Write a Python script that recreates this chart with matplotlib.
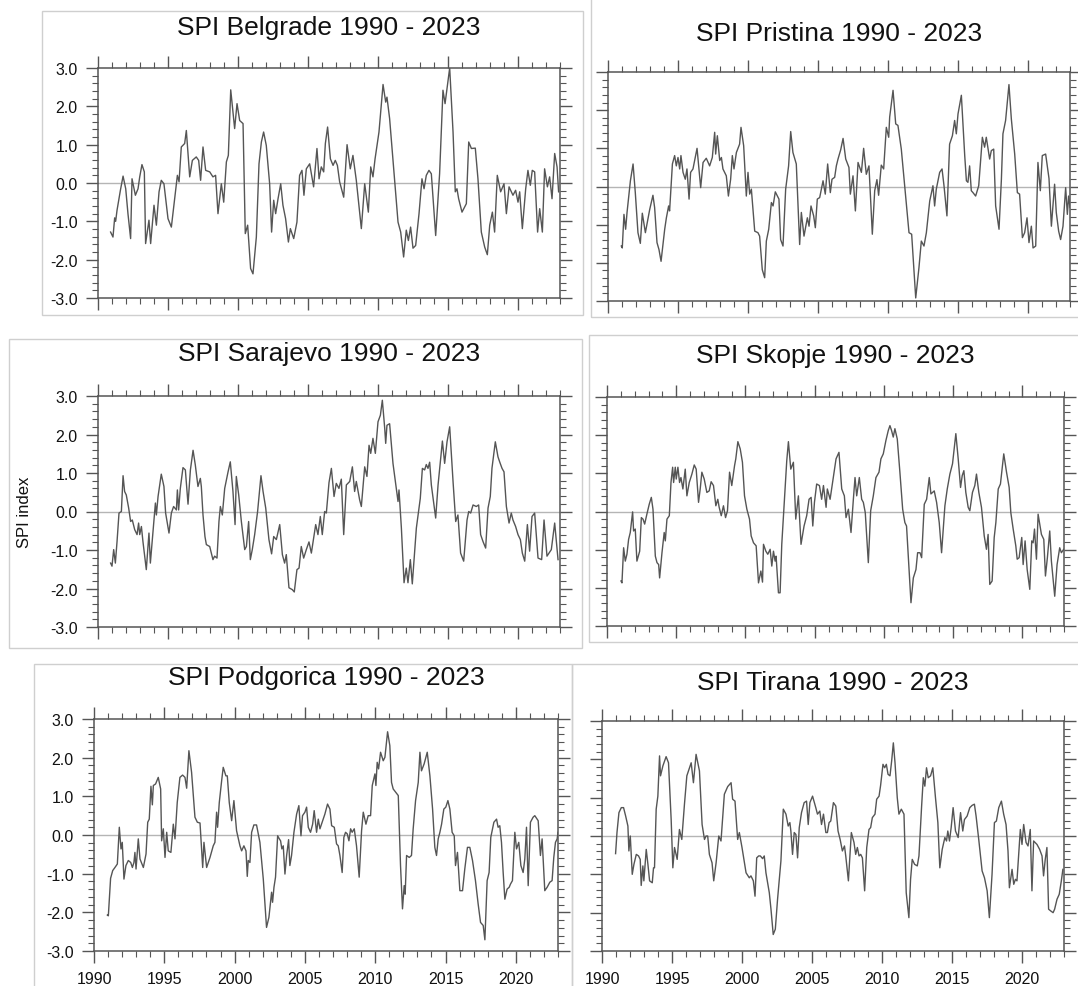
import numpy as np
import matplotlib.pyplot as plt
from matplotlib.ticker import MultipleLocator, FormatStrFormatter
from matplotlib.patches import Rectangle

plt.rcParams['font.family'] = ['Liberation Sans', 'DejaVu Sans']

# SPI values: time in years after 1990, SPI value
belgrade_t = [0.90, 1.07, 1.19, 1.26, 1.36, 1.60, 1.79, 1.98, 2.14, 2.33, 2.43, 2.67, 2.86, 2.98, 3.14, 3.31,
              3.40, 3.64, 3.76, 4.00, 4.17, 4.36, 4.52, 4.71, 5.00, 5.24, 5.48, 5.67, 5.79, 5.95, 6.19, 6.31,
              6.55, 6.74, 7.02, 7.19, 7.33, 7.50, 7.69, 7.98, 8.21, 8.40, 8.57, 8.81, 8.98, 9.17, 9.31, 9.48,
              9.76, 9.93, 10.12, 10.36, 10.52, 10.69, 10.90, 11.07, 11.31, 11.50, 11.67, 11.83, 12.02, 12.26,
              12.40, 12.55, 12.69, 12.86, 13.05, 13.21, 13.40, 13.60, 13.74, 13.98, 14.21, 14.40, 14.57, 14.71,
              14.88, 15.12, 15.40, 15.64, 15.79, 15.95, 16.12, 16.24, 16.40, 16.60, 16.79, 16.95, 17.10, 17.26,
              17.55, 17.79, 18.02, 18.21, 18.45, 18.81, 19.05, 19.31, 19.48, 19.64, 19.79, 20.07, 20.36, 20.55,
              20.64, 20.83, 21.12, 21.43, 21.62, 21.83, 22.02, 22.17, 22.33, 22.50, 22.69, 22.93, 23.14, 23.29,
              23.45, 23.64, 23.81, 24.12, 24.40, 24.64, 24.79, 25.12, 25.36, 25.52, 25.64, 25.76, 26.00, 26.31,
              26.48, 26.67, 26.95, 27.14, 27.38, 27.62, 27.81, 27.98, 28.17, 28.33, 28.52, 28.76, 29.00, 29.17,
              29.36, 29.64, 29.83, 30.00, 30.12, 30.31, 30.55, 30.71, 30.88, 31.02, 31.19, 31.40, 31.55, 31.74,
              31.90, 32.10, 32.26, 32.43, 32.62, 32.79, 32.90]
belgrade_v = [-1.28, -1.41, -0.91, -1.00, -0.71, -0.19, 0.18, -0.15, -0.80, -1.45, 0.11, -0.32, -0.15, 0.16, 0.48, 0.29,
              -1.58, -0.97, -1.58, -0.58, -1.10, -0.23, 0.07, -0.02, -0.93, -1.15, -0.41, 0.20, 0.03, 0.94, 1.03, 1.37,
              0.16, 0.59, 0.68, 0.59, 0.07, 0.94, 0.33, 0.29, 0.16, 0.20, -0.80, -0.02, -0.50, 0.55, 0.72, 2.43,
              1.42, 2.07, 1.63, 1.55, -1.32, -1.10, -2.23, -2.37, -1.41, 0.50, 1.07, 1.33, 0.98, -0.02,
              -1.28, -0.45, -0.80, -0.41, -0.02, -0.58, -0.93, -1.54, -1.19, -1.45, -1.02, 0.20, 0.33, -0.32,
              0.37, 0.50, -0.10, 0.90, 0.11, 0.42, 0.29, 1.03, 1.46, 0.63, 0.46, 0.59, 0.46, 0.03,
              -0.37, 1.00, 0.37, 0.72, 0.07, -1.19, -0.02, -0.76, 0.42, 0.16, 0.63, 1.33, 2.57, 2.11,
              2.24, 1.68, 0.37, -1.02, -1.28, -1.93, -1.23, -1.50, -1.15, -1.70, -1.63, -0.80, 0.11, -0.15,
              0.20, 0.33, 0.24, -1.37, 0.24, 2.42, 2.07, 3.00, 1.33, -0.23, -0.15, -0.41, -0.76, -0.54,
              1.07, 0.90, 0.91, 0.11, -1.28, -1.67, -1.87, -1.10, -0.76, -1.28, 0.20, -0.23, -0.02, -0.80,
              -0.10, -0.32, -0.19, -0.50, -0.23, -1.19, -0.15, 0.33, -0.06, 0.33, 0.29, -1.28, -0.67, -1.28,
              0.37, -0.10, 0.16, -0.41, 0.77, 0.42, -0.23]

pristina_t = [0.95, 1.02, 1.14, 1.26, 1.36, 1.60, 1.79, 1.95, 2.14, 2.31, 2.45, 2.67, 2.98, 3.21, 3.33, 3.50,
              3.64, 3.79, 4.05, 4.17, 4.33, 4.40, 4.60, 4.76, 4.88, 5.00, 5.12, 5.21, 5.36, 5.52, 5.64, 5.79,
              5.90, 6.07, 6.36, 6.62, 6.79, 7.02, 7.26, 7.45, 7.62, 7.69, 7.81, 7.98, 8.10, 8.21, 8.45, 8.60,
              8.76, 8.88, 9.00, 9.17, 9.40, 9.50, 9.69, 9.88, 10.00, 10.12, 10.24, 10.48, 10.71, 10.83, 11.02,
              11.19, 11.31, 11.48, 11.67, 11.79, 11.95, 12.21, 12.33, 12.50, 12.69, 12.90, 13.05, 13.21, 13.45,
              13.69, 13.81, 14.00, 14.24, 14.36, 14.50, 14.69, 14.81, 14.95, 15.12, 15.36, 15.52, 15.69, 15.88,
              16.00, 16.19, 16.31, 16.43, 16.62, 16.79, 16.98, 17.21, 17.31, 17.50, 17.67, 17.86, 18.10, 18.26,
              18.45, 18.64, 18.88, 19.05, 19.21, 19.33, 19.52, 19.69, 19.88, 20.05, 20.12, 20.36, 20.55, 20.71,
              20.95, 21.19, 21.50, 21.69, 21.98, 22.21, 22.38, 22.57, 22.74, 22.98, 23.21, 23.33, 23.45, 23.69,
              23.86, 24.00, 24.21, 24.40, 24.60, 24.76, 24.88, 25.00, 25.24, 25.48, 25.60, 25.71, 25.83, 25.95,
              26.07, 26.26, 26.48, 26.74, 26.90, 27.02, 27.26, 27.38, 27.55, 27.69, 27.93, 28.10, 28.21, 28.40,
              28.64, 28.81, 29.05, 29.24, 29.40, 29.60, 29.76, 29.93, 30.07, 30.24, 30.36, 30.55, 30.71, 30.88,
              31.02, 31.26, 31.50, 31.67, 31.90, 32.02, 32.19, 32.33, 32.50, 32.69, 32.81, 32.90, 33.00]
pristina_v = [-1.56, -1.61, -0.73, -1.12, -0.68, 0.15, 0.59, -0.16, -1.21, -1.49, -0.70, -1.21, -0.60, -0.23, -0.55, -1.47,
              -1.65, -1.96, -1.12, -0.82, -0.51, -0.64, 0.59, 0.81, 0.54, 0.76, 0.46, 0.81, 0.37, 0.19, 0.46, -0.33,
              0.37, 0.46, 1.00, -0.03, 0.63, 0.74, 0.54, 0.76, 1.42, 0.85, 1.33, 0.68, 0.76, 0.46, 0.28, -0.25,
              0.19, 0.81, 0.46, 0.89, 1.11, 1.55, 1.07, -0.25, 0.37, -0.20, -0.07, -1.17, -1.21, -1.30, -2.18,
              -2.39, -1.43, -1.12, -0.42, -0.51, -0.14, -0.33, -1.39, -1.56, -0.07, 0.54, 1.44, 0.89, 0.59,
              -1.52, -0.68, -1.30, -0.82, -1.04, -0.51, -0.77, -1.08, -0.33, -0.29, 0.15, -0.20, 0.59, -0.16,
              0.19, 0.24, 0.54, 0.72, 0.96, 1.26, 0.72, 0.50, -0.20, 0.28, -0.64, 0.63, 0.37, 1.00,
              0.32, 0.54, -1.25, -0.11, 0.18, -0.23, 0.56, 0.46, 1.55, 1.29, 1.82, 2.52, 1.64, 1.60,
              0.98, 0.02, -1.21, -1.25, -2.92, -2.13, -1.43, -1.56, -1.21, -0.38, 0.02, -0.51, -0.07, 0.37,
              0.46, 0.02, -0.77, 1.11, 1.33, 1.73, 1.38, 1.90, 2.39, 0.81, 0.15, 0.11, 0.54, -0.11,
              -0.16, -0.25, 0.02, 1.29, 1.03, 1.29, 0.72, 0.94, 0.98, -0.51, -1.12, 0.19, 1.38, 1.73,
              2.67, 1.77, 0.85, -0.16, -0.20, -1.34, -1.21, -0.82, -1.47, -1.04, -1.61, -1.56, 0.63, -0.11,
              0.81, 0.85, 0.21, -1.04, 0.06, -0.68, -1.17, -1.39, -1.04, -0.03, -0.73, -0.25, -0.55]

sarajevo_t = [0.90, 1.00, 1.12, 1.24, 1.36, 1.50, 1.67, 1.79, 1.90, 2.02, 2.19, 2.33, 2.45, 2.62, 2.79, 2.90,
              2.98, 3.10, 3.21, 3.45, 3.64, 3.74, 3.93, 4.10, 4.17, 4.29, 4.52, 4.71, 4.83, 5.07, 5.24, 5.40,
              5.60, 5.67, 5.76, 5.88, 6.07, 6.24, 6.43, 6.60, 6.79, 6.95, 7.14, 7.31, 7.38, 7.50, 7.64, 7.74,
              7.98, 8.21, 8.33, 8.50, 8.64, 8.74, 8.88, 9.05, 9.29, 9.45, 9.64, 9.79, 9.88, 10.05, 10.24, 10.48,
              10.60, 10.76, 10.88, 11.02, 11.19, 11.40, 11.64, 11.79, 11.98, 12.21, 12.40, 12.55, 12.74, 12.98,
              13.17, 13.33, 13.45, 13.64, 13.88, 14.02, 14.21, 14.36, 14.52, 14.69, 14.88, 15.07, 15.24, 15.55,
              15.71, 15.88, 16.02, 16.19, 16.31, 16.50, 16.67, 16.86, 17.02, 17.21, 17.38, 17.55, 17.74, 17.98,
              18.17, 18.33, 18.45, 18.69, 18.81, 19.05, 19.21, 19.36, 19.48, 19.64, 19.81, 20.00, 20.17, 20.31,
              20.48, 20.55, 20.64, 20.83, 21.07, 21.31, 21.43, 21.50, 21.67, 21.86, 22.02, 22.14, 22.31, 22.45,
              22.74, 23.02, 23.17, 23.33, 23.45, 23.57, 23.69, 23.81, 24.12, 24.29, 24.60, 24.76, 24.93, 25.12,
              25.36, 25.55, 25.71, 25.90, 26.12, 26.36, 26.48, 26.62, 26.79, 27.02, 27.19, 27.33, 27.50, 27.69,
              27.86, 28.02, 28.14, 28.38, 28.57, 28.69, 28.86, 29.00, 29.17, 29.36, 29.52, 29.64, 29.83, 30.00,
              30.17, 30.31, 30.48, 30.67, 30.83, 31.00, 31.19, 31.43, 31.69, 31.86, 32.07, 32.38, 32.62, 32.86]
sarajevo_v = [-1.34, -1.42, -0.99, -1.34, -0.78, -0.04, 0.00, 0.93, 0.52, 0.43, 0.09, -0.26, -0.22, -0.47, -0.60, -0.30,
              -0.60, -0.39, -0.78, -1.51, -0.56, -1.34, -0.52, 0.22, -0.09, 0.39, 0.97, 0.65, -0.04, -0.56, -0.04, 0.13,
              0.04, 0.56, 0.04, 0.60, 1.14, 1.08, 0.19, 1.08, 1.59, 1.21, 0.65, 0.86, 0.65, -0.09, -0.65, -0.86,
              -0.91, -1.25, -1.16, -1.21, -0.26, 0.13, -0.09, 0.60, 1.03, 1.29, 0.52, -0.34, 0.91, 0.43, -0.26, -0.99,
              -0.91, -0.26, -1.25, -0.99, -0.60, 0.00, 0.93, 0.52, 0.09, -0.73, -1.10, -0.65, -0.73, -0.34,
              -1.12, -1.34, -1.12, -1.98, -2.03, -2.09, -1.51, -1.47, -0.91, -1.21, -0.99, -0.79, -1.08, -0.34,
              -0.60, -0.13, -0.60, 0.00, -0.04, 0.75, 1.12, 0.39, 0.73, 0.60, 0.84, -0.60, 0.69, 0.78,
              1.16, 0.52, 0.78, 0.30, 0.13, 1.16, 0.91, 1.72, 1.51, 1.90, 1.51, 2.33, 2.50, 2.89,
              2.16, 1.77, 2.24, 2.28, 1.25, 0.60, 0.26, 0.56, -0.43, -1.85, -1.47, -1.85, -1.25, -1.88,
              -0.43, 0.34, 1.12, 1.08, 1.22, 1.12, 1.28, 0.69, -0.17, 0.69, 1.83, 1.25, 1.81, 2.20,
              0.78, -0.26, -0.09, -1.08, -1.29, -0.22, 0.00, -0.04, 0.17, 0.13, 0.17, -0.60, -0.78, -0.95,
              0.09, 0.39, 1.12, 1.81, 1.42, 1.29, 1.12, 1.03, 0.13, -0.30, -0.04, -0.22, -0.39, -0.60,
              -0.73, -1.08, -1.29, -0.34, -1.03, -0.13, -0.04, -1.21, -1.25, -0.22, -1.16, -0.99, -0.30, -1.25]

skopje_t = [1.01, 1.08, 1.20, 1.32, 1.44, 1.56, 1.68, 1.85, 1.92, 2.04, 2.16, 2.36, 2.48, 2.60, 2.72, 2.88,
            3.05, 3.20, 3.32, 3.49, 3.61, 3.73, 3.80, 3.97, 4.13, 4.21, 4.33, 4.50, 4.62, 4.74, 4.81, 4.93,
            5.00, 5.12, 5.24, 5.34, 5.48, 5.65, 5.77, 5.94, 6.13, 6.30, 6.44, 6.61, 6.73, 6.85, 7.02, 7.21,
            7.38, 7.52, 7.69, 7.86, 8.00, 8.10, 8.25, 8.41, 8.56, 8.70, 8.85, 9.01, 9.21, 9.30, 9.45, 9.62,
            9.78, 9.93, 10.10, 10.29, 10.41, 10.58, 10.77, 10.94, 11.11, 11.23, 11.30, 11.47, 11.61, 11.78,
            11.90, 12.02, 12.14, 12.21, 12.38, 12.50, 12.62, 12.81, 12.98, 13.10, 13.27, 13.46, 13.63, 13.82,
            14.01, 14.23, 14.42, 14.59, 14.74, 14.86, 14.98, 15.14, 15.34, 15.50, 15.63, 15.82, 15.91, 16.11,
            16.27, 16.54, 16.75, 16.95, 17.14, 17.26, 17.43, 17.62, 17.79, 17.91, 18.03, 18.22, 18.39, 18.51,
            18.65, 18.87, 19.04, 19.23, 19.42, 19.64, 19.78, 19.95, 20.14, 20.31, 20.43, 20.55, 20.67, 20.79,
            20.96, 21.15, 21.35, 21.51, 21.63, 21.80, 21.95, 22.12, 22.31, 22.43, 22.60, 22.72, 22.91, 23.08,
            23.27, 23.39, 23.63, 23.80, 23.99, 24.16, 24.40, 24.57, 24.76, 24.95, 25.19, 25.36, 25.53, 25.65,
            25.77, 25.91, 26.08, 26.20, 26.39, 26.56, 26.68, 26.85, 27.04, 27.24, 27.40, 27.52, 27.64, 27.81,
            27.96, 28.08, 28.25, 28.41, 28.65, 28.85, 29.04, 29.16, 29.33, 29.52, 29.62, 29.76, 29.95, 30.05,
            30.19, 30.34, 30.53, 30.67, 30.77, 30.87, 31.01, 31.13, 31.37, 31.54, 31.66, 31.80, 31.97, 32.09,
            32.33, 32.50, 32.69, 32.81, 32.98]
skopje_v = [-1.82, -1.87, -0.95, -1.30, -1.12, -0.73, -0.55, -0.01, -0.51, -0.46, -1.30, -1.04, -0.16, -0.20, -0.33, -0.07,
            0.19, 0.37, 0.06, -1.17, -1.34, -1.39, -1.74, -1.08, -0.55, -0.77, -0.20, -0.11, 0.76, 1.16, 0.76, 1.16,
            0.85, 1.16, 0.76, 0.89, 0.59, 1.11, 0.41, 0.76, 0.98, 1.22, 1.11, 0.24, 0.59, 1.03, 0.85, 0.50,
            0.54, 0.78, 0.68, 0.15, 0.32, 0.11, -0.11, 0.15, -0.16, 0.02, 1.03, 0.68, 1.20, 1.38, 1.83, 1.64,
            1.29, 0.41, 0.06, -0.20, -0.64, -0.82, -0.90, -1.87, -1.56, -1.85, -0.86, -1.04, -1.12, -0.99,
            -1.43, -1.04, -1.30, -1.17, -2.13, -2.13, -0.86, 0.32, 1.33, 1.83, 1.11, 1.29, -0.20, 0.41,
            -0.86, -0.38, -0.11, 0.32, 0.37, -0.38, 0.24, 0.72, 0.68, 0.32, 0.68, 0.11, 0.59, 0.32,
            0.72, 1.38, 1.55, 0.59, 0.41, -0.16, 0.06, -0.55, 0.32, 0.89, 0.41, 0.89, 0.32, 0.24,
            -0.03, -1.34, 0.02, 0.41, 0.89, 1.03, 1.38, 1.51, 1.86, 2.12, 2.25, 2.12, 1.95, 2.17,
            1.90, 1.03, 0.06, -0.29, -0.38, -1.43, -2.39, -1.74, -1.52, -1.08, -1.08, -1.21, 0.19, 0.32,
            0.89, 0.46, 0.54, 0.24, -0.29, -1.08, 0.15, 0.59, 0.98, 1.25, 2.04, 1.38, 0.63, 0.94,
            1.07, 0.50, 0.11, 0.02, 0.50, 0.68, 0.98, 0.50, 0.11, -0.64, -0.99, -0.60, -1.91, -1.82,
            -0.68, -0.29, 0.59, 0.72, 1.51, 1.03, 0.63, -0.03, -0.46, -0.90, -1.25, -1.21, -0.68, -1.39,
            -0.77, -1.52, -2.04, -0.77, -0.82, -0.46, -1.25, -0.07, -0.60, -0.73, -1.69, -1.21, -0.51, -1.30,
            -2.22, -1.39, -0.95, -1.08, -0.99]

podgorica_t = [0.95, 1.02, 1.18, 1.33, 1.49, 1.66, 1.80, 1.92, 2.01, 2.13, 2.27, 2.44, 2.61, 2.73, 2.84, 2.91,
               2.99, 3.15, 3.27, 3.51, 3.70, 3.82, 3.93, 4.05, 4.15, 4.22, 4.38, 4.57, 4.74, 4.81, 4.93, 5.05,
               5.17, 5.28, 5.47, 5.64, 5.76, 5.92, 6.11, 6.30, 6.47, 6.59, 6.75, 6.94, 7.18, 7.35, 7.54, 7.73,
               7.82, 8.01, 8.25, 8.48, 8.60, 8.72, 8.79, 8.91, 9.08, 9.19, 9.38, 9.48, 9.62, 9.79, 9.95, 10.14,
               10.38, 10.50, 10.66, 10.81, 10.90, 10.97, 11.09, 11.21, 11.37, 11.56, 11.80, 12.04, 12.27, 12.44,
               12.63, 12.70, 12.80, 12.91, 13.06, 13.18, 13.27, 13.36, 13.46, 13.58, 13.70, 13.84, 13.93, 14.05,
               14.22, 14.41, 14.57, 14.72, 14.83, 15.00, 15.12, 15.24, 15.40, 15.55, 15.66, 15.83, 15.95, 16.07,
               16.18, 16.42, 16.61, 16.78, 16.90, 17.09, 17.25, 17.37, 17.49, 17.65, 17.77, 17.89, 18.01, 18.13,
               18.25, 18.36, 18.51, 18.67, 18.86, 19.03, 19.15, 19.34, 19.50, 19.67, 19.79, 19.98, 20.05, 20.14,
               20.24, 20.38, 20.57, 20.69, 20.88, 21.04, 21.16, 21.28, 21.47, 21.64, 21.80, 21.94, 22.06, 22.13,
               22.23, 22.42, 22.58, 22.70, 22.87, 23.06, 23.18, 23.29, 23.48, 23.70, 23.89, 24.08, 24.24, 24.36,
               24.48, 24.60, 24.72, 24.88, 25.02, 25.17, 25.31, 25.47, 25.62, 25.71, 25.85, 26.02, 26.21, 26.37,
               26.56, 26.73, 26.92, 27.13, 27.32, 27.49, 27.68, 27.80, 27.96, 28.10, 28.22, 28.44, 28.63, 28.74,
               28.86, 28.98, 29.10, 29.22, 29.38, 29.53, 29.62, 29.76, 29.93, 30.05, 30.21, 30.36, 30.52, 30.64,
               30.76, 30.88, 31.04, 31.23, 31.35, 31.59, 31.75, 31.87, 32.06, 32.23, 32.42, 32.58, 32.70, 32.82,
               32.94, 33.00]
podgorica_v = [-2.07, -2.09, -1.12, -0.92, -0.84, -0.75, 0.20, -0.36, -0.19, -1.14, -0.79, -0.66, -0.71, -0.84, -0.71, -0.45,
               -0.88, -0.10, -0.62, -0.84, -0.49, 0.33, 0.41, 1.26, 0.78, 1.28, 1.32, 1.49, 1.19, -0.15, 0.16, -0.58,
               0.07, -0.41, -0.45, 0.28, -0.10, 0.84, 1.49, 1.55, 1.49, 1.21, 2.18, 1.62, 0.46, 0.33, 0.31, -0.84,
               -0.19, -0.84, -0.58, -0.28, -0.19, 0.59, 0.20, 0.84, 1.41, 1.75, 1.53, 1.53, 0.84, 0.37, 0.89, 0.11,
               -0.28, -0.41, -0.28, -0.41, -1.07, -0.66, -0.71, 0.07, 0.26, 0.26, -0.19, -1.14, -2.39, -2.13,
               -1.48, -1.74, -1.35, -1.09, -0.02, -0.10, -0.15, -0.36, -0.28, -1.01, -0.53, -0.12, -0.79, -0.53,
               0.07, 0.54, 0.76, -0.02, 0.50, 0.59, 0.72, 0.20, 0.07, 0.28, 0.63, 0.07, 0.41, 0.16,
               0.28, 0.54, 0.80, 0.67, 0.24, 0.20, -0.23, -0.28, -0.53, -0.97, -0.06, 0.07, 0.03, -0.15,
               0.16, 0.07, 0.16, -0.28, -1.09, 0.11, 0.59, 0.28, 0.50, 0.50, 1.28, 1.58, 1.28, 1.88,
               1.71, 2.14, 1.92, 2.01, 2.67, 2.31, 1.36, 1.19, 1.10, 1.02, -0.79, -1.91, -1.31, -1.53,
               -0.53, -0.58, -0.53, 0.16, 0.89, 1.36, 2.14, 1.66, 1.84, 2.14, 1.53, 0.67, -0.32, -0.53,
               -0.10, 0.07, 0.28, 0.67, 0.72, 0.89, 0.67, 0.07, -0.02, -0.79, -0.45, -1.44, -1.44, -0.88,
               -0.32, -0.32, -0.66, -1.18, -1.78, -2.26, -2.34, -2.71, -1.18, -0.97, -0.06, 0.33, 0.41, 0.20,
               0.24, -0.19, -0.97, -1.66, -1.40, -1.35, -1.27, -1.18, 0.07, -0.36, -0.19, -0.79, -0.97, -0.62,
               0.20, -1.31, 0.33, 0.46, 0.50, 0.37, -0.53, -0.10, -1.44, -1.35, -1.22, -1.18, -0.58, -0.19,
               -0.10, 0.07]

tirana_t = [0.97, 1.07, 1.21, 1.38, 1.54, 1.69, 1.85, 1.92, 2.02, 2.16, 2.28, 2.45, 2.61, 2.73, 2.80, 2.92,
            2.99, 3.16, 3.28, 3.40, 3.59, 3.68, 3.75, 3.87, 3.99, 4.11, 4.18, 4.35, 4.58, 4.75, 4.94, 5.06,
            5.18, 5.37, 5.53, 5.70, 5.89, 6.06, 6.37, 6.53, 6.72, 6.96, 7.15, 7.32, 7.43, 7.55, 7.67, 7.86,
            7.98, 8.15, 8.34, 8.50, 8.74, 8.98, 9.22, 9.33, 9.50, 9.69, 9.81, 10.00, 10.29, 10.52, 10.64, 10.81,
            10.93, 11.05, 11.19, 11.31, 11.47, 11.59, 11.71, 11.95, 12.07, 12.23, 12.38, 12.54, 12.78, 12.95,
            13.14, 13.30, 13.42, 13.49, 13.61, 13.73, 13.85, 13.97, 14.09, 14.25, 14.44, 14.61, 14.73, 14.85,
            15.04, 15.27, 15.39, 15.56, 15.68, 15.82, 15.99, 16.10, 16.22, 16.34, 16.53, 16.70, 16.86, 17.01,
            17.17, 17.32, 17.41, 17.60, 17.81, 18.00, 18.12, 18.24, 18.36, 18.48, 18.60, 18.76, 18.91, 19.07,
            19.19, 19.31, 19.50, 19.62, 19.79, 19.90, 20.07, 20.19, 20.31, 20.43, 20.57, 20.69, 20.81, 20.93,
            21.09, 21.21, 21.38, 21.57, 21.73, 21.92, 22.04, 22.16, 22.33, 22.52, 22.64, 22.83, 22.95, 23.06,
            23.18, 23.30, 23.47, 23.63, 23.82, 23.99, 24.13, 24.30, 24.49, 24.61, 24.70, 24.82, 24.94, 25.08,
            25.25, 25.44, 25.61, 25.77, 25.89, 26.08, 26.27, 26.44, 26.60, 26.72, 26.91, 27.15, 27.32, 27.51,
            27.67, 27.86, 28.03, 28.17, 28.34, 28.53, 28.69, 28.86, 29.00, 29.10, 29.29, 29.41, 29.53, 29.64,
            29.76, 29.88, 30.00, 30.12, 30.29, 30.43, 30.59, 30.71, 30.83, 31.07, 31.26, 31.43, 31.54, 31.66,
            31.78, 31.90, 32.07, 32.22, 32.33, 32.50, 32.66, 32.81, 32.92]
tirana_v = [-0.46, 0.09, 0.61, 0.74, 0.74, 0.52, 0.26, -0.39, 0.00, -1.00, -0.74, -0.48, -0.52, -0.61, -1.29, -0.78,
            -1.17, -0.35, -0.74, -1.17, -1.22, -0.83, -0.83, 0.70, 1.04, 2.09, 1.57, 1.83, 2.07, 1.91, 0.43, -0.83,
            -0.30, -0.61, 0.17, -0.09, 0.83, 1.57, 1.91, 1.39, 2.13, 1.70, 0.30, -0.09, 0.00, 0.00, -0.48, -0.70,
            -1.17, -0.70, 0.00, -0.13, 1.09, 1.29, 1.39, 0.96, 0.91, -0.09, 0.09, -0.30, -0.96, -1.09, -1.04, -1.17,
            -1.57, -0.57, -0.52, -0.52, -0.59, -0.52, -0.96, -1.48, -1.91, -2.57, -2.43, -1.65, -0.65, 0.70,
            0.57, 0.26, 0.35, 0.13, -0.48, 0.09, 0.04, -0.57, 0.22, 0.61, 0.87, 0.91, 0.30, 0.87,
            1.04, 0.74, 0.57, 0.65, 0.30, 0.57, 0.09, 0.09, 0.35, 0.39, 0.87, 0.78, 0.13, -0.09,
            -0.39, -0.26, -0.52, -1.17, 0.09, -0.17, -0.48, -0.30, -0.52, -0.48, -0.57, -1.43, -0.30, 0.17,
            0.22, 0.48, 0.57, 0.96, 1.04, 1.32, 1.87, 1.78, 1.87, 1.61, 1.57, 1.96, 2.43, 1.91,
            1.00, 0.57, 0.70, 0.57, -1.48, -2.13, -1.13, -0.61, -0.74, -0.78, -0.52, 0.78, 1.52, 1.30,
            1.78, 1.52, 1.57, 1.78, 1.00, 0.35, -0.83, -0.35, -0.04, -0.13, 0.13, -0.13, 0.22, 0.74,
            0.13, -0.04, 0.61, 0.13, 0.43, 0.52, 0.74, 0.80, 0.83, 0.52, -0.09, -0.91, -1.09, -1.43,
            -2.13, -1.00, 0.35, 0.39, 0.74, 0.91, 0.57, 0.30, -0.39, -1.35, -0.87, -1.26, -1.13, -1.17,
            -0.52, 0.17, -0.22, 0.30, -0.17, -0.26, 0.17, -1.43, -0.13, -0.22, -0.35, -0.52, -1.04, -0.61,
            -0.30, -1.91, -1.96, -2.00, -1.91, -1.65, -1.52, -1.17, -0.87]

cities = ["Belgrade", "Pristina", "Sarajevo", "Skopje", "Podgorica", "Tirana"]
series = [(belgrade_t, belgrade_v), (pristina_t, pristina_v), (sarajevo_t, sarajevo_v),
          (skopje_t, skopje_v), (podgorica_t, podgorica_v), (tirana_t, tirana_v)]

W, H = 1078, 987
fig = plt.figure(figsize=(W / 100, H / 100), dpi=100)

# axes boxes in pixels: left, right, top, bottom
boxes = [(98, 560, 69, 299), (608, 1070, 73, 302),
         (98, 560, 397, 628), (607, 1064, 398, 627),
         (94, 558, 720, 952), (602, 1064, 722, 952)]
title_y = [28, 34, 354, 356, 678, 683]

# light grey frames around the panels (pixels: x0, y0, x1, y1)
frames = [(42, 12, 583, 316), (591, -20, 1090, 318), (9, 340, 582, 649),
          (589, 336, 1090, 643), (34, 665, 572, 1000), (572, 665, 1090, 1000)]
for x0, y0, x1, y1 in frames:
    fig.add_artist(Rectangle((x0 / W, 1 - y1 / H), (x1 - x0) / W, (y1 - y0) / H,
                             transform=fig.transFigure, fill=False, ec='#cfcfcf', lw=1.0))

line_col = '#555555'
for i, (name, (t, v), (l, r, top, b)) in enumerate(zip(cities, series, boxes)):
    ax = fig.add_axes([l / W, 1 - b / H, (r - l) / W, (b - top) / H])
    ax.axhline(0, color='#b5b5b5', lw=1.0, zorder=1)
    ax.plot(1990 + np.array(t), v, color=line_col, lw=1.0, zorder=2)
    ax.set_xlim(1990, 2023)
    ax.set_ylim(-3, 3)
    ax.xaxis.set_major_locator(MultipleLocator(5))
    ax.xaxis.set_minor_locator(MultipleLocator(1))
    ax.yaxis.set_major_locator(MultipleLocator(1))
    ax.yaxis.set_minor_locator(MultipleLocator(0.2))
    ax.yaxis.set_major_formatter(FormatStrFormatter('%.1f'))
    ax.tick_params(which='both', direction='out', top=True, right=True, color='#555555',
                   labelsize=11.5, pad=6, labelcolor='#111111')
    ax.tick_params(which='major', length=8.5, width=1.0)
    ax.tick_params(which='minor', length=4.3, width=0.8)
    ax.tick_params(labelleft=(i % 2 == 0), labelbottom=(i >= 4))
    for s in ax.spines.values():
        s.set_color('#555555')
        s.set_linewidth(1.1)
    fig.text((l + r) / 2 / W, 1 - title_y[i] / H, f"SPI {name} 1990 - 2023",
             ha='center', va='center', fontsize=19, color='#111111')

fig.text(25 / W, 1 - 512 / H, "SPI index", rotation=90, ha='center', va='center',
         fontsize=12, color='#111111')

fig.savefig("out.png", dpi=100)
